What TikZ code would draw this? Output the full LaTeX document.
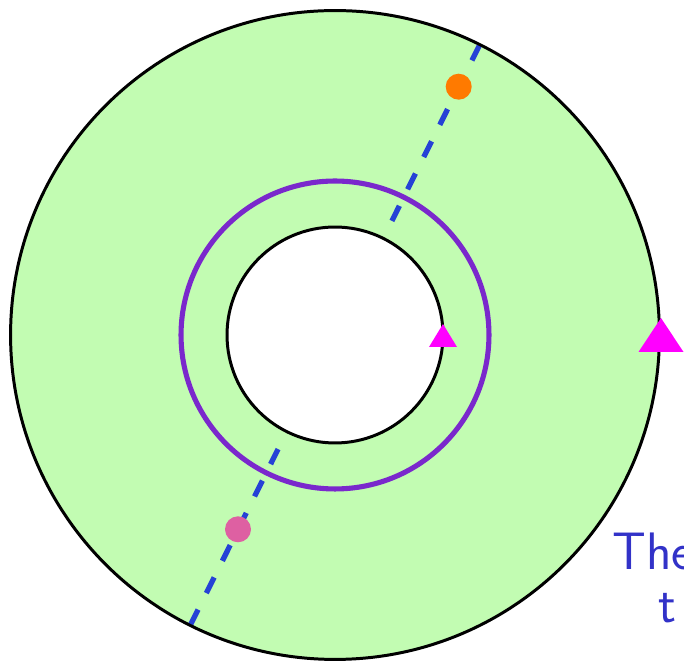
\documentclass[tikz,border=0pt]{standalone}
\usepackage{tikz}
\usetikzlibrary{positioning,calc}
\definecolor{ringgreen}{RGB}{194,252,178}
\definecolor{loopviolet}{RGB}{122,40,204}
\definecolor{cutblue}{RGB}{38,66,214}
\definecolor{dotorange}{RGB}{255,122,0}
\definecolor{dotpink}{RGB}{222,96,162}
\definecolor{markmagenta}{RGB}{255,0,255}
\definecolor{notblue}{RGB}{50,50,200}

\begin{document}
\begin{tikzpicture}[
    x=0.02cm, y=-0.02cm,
    rim/.style={draw=black, line width=1.7pt},
    loopline/.style={draw=loopviolet, line width=2.9pt},
    cutline/.style={draw=cutblue, line width=3pt, dash pattern=on 10pt off 10.5pt},
    dot/.style={circle, inner sep=0pt, minimum size=0.52cm},
    marker/.style={fill=markmagenta},
    note/.style={text=notblue, font=\sffamily\fontsize{30}{36}\selectfont, anchor=base west, inner sep=0pt}
]
\useasboundingbox (0,0) rectangle (684,661);

% Centre and radii
\coordinate (c) at (335,335);

% Annulus
\fill[ringgreen, even odd rule] (c) circle [radius=6.49cm] (c) circle [radius=2.16cm];

% Cut
\coordinate (a2) at ($(c)+(63.5:6.49cm)$);
\coordinate (a1) at ($(c)+(63.5:2.55cm)$);
\coordinate (b2) at ($(c)+(243.5:6.49cm)$);
\coordinate (b1) at ($(c)+(243.5:2.55cm)$);
\draw[cutline] (a2) -- (a1);
\draw[cutline] (b2) -- (b1);

% Loop
\draw[loopline] (c) circle [radius=3.08cm];

% Boundaries
\draw[rim] (c) circle [radius=6.49cm];
\draw[rim] (c) circle [radius=2.16cm];

% Points
\node[dot, fill=dotorange] (p) at (458.7,86.7) {};
\node[dot, fill=dotpink] (q) at (238,529.3) {};

% Markers
\coordinate (m1) at ($(c)+(108,-11)$);
\coordinate (m2) at ($(c)+(326,-17)$);
\fill[marker] (m1) -- ++(14,23) -- ++(-28,0) -- cycle;
\fill[marker] (m2) -- ++(22.5,34) -- ++(-45,0) -- cycle;

% Note
\node[note] (t1) at (612,570) {The};
\node[note] (t2) at (658,623) {t};

\end{tikzpicture}
\end{document}
